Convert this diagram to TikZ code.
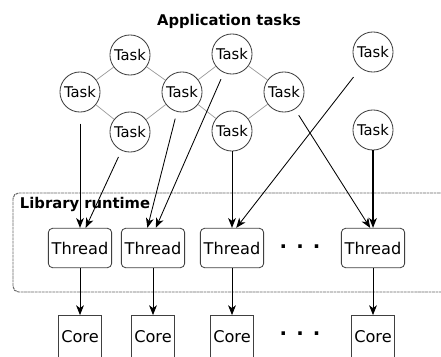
\documentclass[tikz,border=0pt]{standalone}
\usepackage{fontspec}
\setmainfont{DejaVu Sans}
\usetikzlibrary{arrows.meta,shapes}

\begin{document}
\begin{tikzpicture}
  [x=0.025cm,y=-0.025cm,
   task/.style={circle,draw=black!75,line width=.6pt,minimum size=28.5pt,inner sep=0pt,
     font=\fontsize{10.5}{12}\selectfont},
   thread/.style={rectangle,rounded corners=3pt,draw=black!75,line width=.6pt,
     minimum width=45pt,minimum height=28pt,inner sep=1pt,font=\fontsize{11.5}{13}\selectfont},
   core/.style={rectangle,draw=black!75,line width=.6pt,minimum width=30.5pt,
     minimum height=30.5pt,inner sep=1pt,font=\fontsize{11.5}{13}\selectfont},
   dep/.style={draw=gray!80,line width=.5pt},
   run/.style={arrows={-{Stealth[length=7pt,width=5.5pt,inset=2pt]}},line width=.6pt}]
  \clip (0,0) rectangle (441,356);

  \node[anchor=base,font=\bfseries\fontsize{10.5}{12}\selectfont] (title) at (229,25) {Application tasks};

  % tasks
  \node[task] (t1) at (130,55) {Task};
  \node[task] (t2) at (80,92) {Task};
  \node[task] (t3) at (130,132) {Task};
  \node[task] (t4) at (182,92) {Task};
  \node[task] (t5) at (232,54) {Task};
  \node[task] (t6) at (284,92) {Task};
  \node[task] (t7) at (232,131) {Task};
  \node[task] (t8) at (373,52) {Task};
  \node[task] (t9) at (373,130) {Task};

  \draw[dep] (t1) -- (t2);
  \draw[dep] (t2) -- (t3);
  \draw[dep] (t1) -- (t4);
  \draw[dep] (t3) -- (t4);
  \draw[dep] (t4) -- (t5);
  \draw[dep] (t4) -- (t7);
  \draw[dep] (t5) -- (t6);
  \draw[dep] (t6) -- (t7);

  % runtime
  \draw[black!60,line width=.7pt,dash pattern=on 2pt off .5pt,rounded corners=4pt]
    (13,193) rectangle (470,292);
  \node[anchor=base west,font=\bfseries\fontsize{10.5}{12}\selectfont] (lib) at (15,208) {Library runtime};

  \foreach \i/\x in {1/80,2/153,3/232,4/373} {
    \node[thread] (th\i) at (\x,248) {Thread};
    \node[core] (c\i) at (\x,337) {Core};
    \draw[run] (th\i) -- (c\i);
  }
  \node[font=\bfseries\fontsize{14}{14}\selectfont] (dots1) at (300,247) {. . .};
  \node[font=\bfseries\fontsize{14}{14}\selectfont] (dots2) at (300,334) {. . .};

  \draw[run,shorten <=8pt] (t2) -- (th1);
  \draw[run,shorten <=5pt] (t3) -- ([xshift=4pt]th1.north);
  \draw[run,shorten <=5pt] (t4) -- ([xshift=-4pt]th2.north);
  \draw[run,shorten <=5pt] (t5) -- ([xshift=2pt]th2.north);
  \draw[run] (t7) -- (th3);
  \draw[run,shorten <=8pt] (t8) -- ([xshift=3pt]th3.north);
  \draw[run,shorten <=5pt] (t6) -- ([xshift=-2pt]th4.north);
  \draw[run,line width=.9pt] (t9) -- (th4);
\end{tikzpicture}
\end{document}
